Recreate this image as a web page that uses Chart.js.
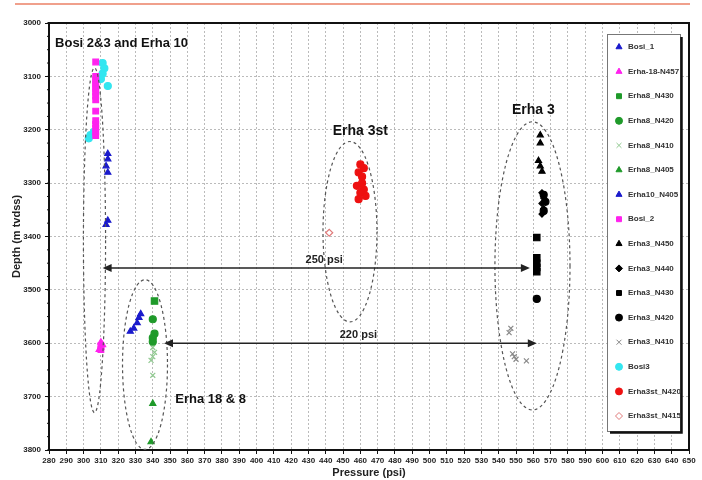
<!DOCTYPE html>
<html>
<head>
<meta charset="utf-8">
<style>
  html, body { margin: 0; padding: 0; background: #fff; }
  #wrap { width: 702px; height: 480px; position: relative; }
</style>
<script src="https://cdn.jsdelivr.net/npm/chart.js@4/dist/chart.umd.min.js"></script>
</head>
<body>
<div id="wrap"><canvas id="myChart" width="702" height="480"></canvas></div>
<script>
// pressure (psi) / depth (m tvdss)
const bosi1P = [314, 314, 313, 314, 314, 313];
const bosi1D = [3245, 3255, 3268, 3280, 3370, 3378];
const erha18P = [310, 311, 310, 309];
const erha18D = [3598, 3603, 3608, 3612];
const erha8n430P = [341];
const erha8n430D = [3521];
const erha8n420P = [340, 341, 340, 340];
const erha8n420D = [3555, 3582, 3590, 3597];
const erha8n410P = [340, 341, 340, 339, 340];
const erha8n410D = [3608, 3617, 3625, 3632, 3660];
const erha8n405P = [340, 339];
const erha8n405D = [3713, 3785];
const erha10P = [333, 332, 331, 329, 327];
const erha10D = [3545, 3552, 3562, 3572, 3578];
const bosi2P = [307, 307, 307, 307, 307, 307, 307, 307, 307, 307, 307, 307, 307, 307, 307, 310, 310];
const bosi2D = [3073, 3100, 3106, 3112, 3118, 3124, 3130, 3137, 3144, 3165, 3183, 3190, 3197, 3204, 3211, 3605, 3612];
const erha3n450P = [564, 564, 563, 564, 565];
const erha3n450D = [3210, 3225, 3258, 3268, 3278];
const erha3n440P = [565, 566, 565, 566, 565];
const erha3n440D = [3318, 3328, 3338, 3348, 3358];
const erha3n430P = [562, 562, 562, 562, 562];
const erha3n430D = [3402, 3440, 3450, 3458, 3466];
const erha3n420P = [566, 567, 566, 562];
const erha3n420D = [3322, 3335, 3352, 3517];
const erha3n410P = [547, 546, 548, 549, 550, 556];
const erha3n410D = [3572, 3580, 3620, 3625, 3630, 3633];
const bosi3P = [311, 312, 311, 310, 314, 304, 303, 306];
const bosi3D = [3075, 3085, 3095, 3105, 3118, 3210, 3216, 3204];
const erha3stN420P = [460, 462, 459, 461, 458, 462, 460, 463, 459, 461];
const erha3stN420D = [3265, 3272, 3280, 3288, 3305, 3312, 3318, 3324, 3330, 3300];
const erha3stN415P = [442];
const erha3stN415D = [3393];

// group outlines: centre pressure, centre depth, half width (psi), half height (m)
const groupCentres = [[306.3, 3407], [335.5, 3640], [454, 3391], [559.5, 3455]];
const groupRadii = [[6.4, 323], [13, 159], [15.6, 169], [21.7, 270]];
const groupNames = ['Bosi 2&3 and Erha 10', 'Erha 18 & 8', 'Erha 3st', 'Erha 3'];
const groupLabelAt = [[283.5, 3039], [353, 3706], [460, 3202], [560, 3163]];

// pressure gaps
const gapNames = ['250 psi', '220 psi'];
const gapFrom = [311, 346.5];
const gapTo = [558, 562];
const gapDepth = [3459, 3600];

function pts(p, d) {
  return p.map((v, i) => ({ x: v, y: d[i] }));
}

const blue = '#1a1acc', magenta = '#ff22ee', green = '#1f9a2a';

const datasets = [
  { label: 'Bosi_1', data: pts(bosi1P, bosi1D), pointStyle: 'triangle', backgroundColor: blue, borderColor: blue },
  { label: 'Erha-18-N457', data: pts(erha18P, erha18D), pointStyle: 'triangle', backgroundColor: magenta, borderColor: magenta },
  { label: 'Erha8_N430', data: pts(erha8n430P, erha8n430D), pointStyle: 'rect', backgroundColor: green, borderColor: green, pointRadius: 4.5 },
  { label: 'Erha8_N420', data: pts(erha8n420P, erha8n420D), pointStyle: 'circle', backgroundColor: green, borderColor: green },
  { label: 'Erha8_N410', data: pts(erha8n410P, erha8n410D), pointStyle: 'crossRot', backgroundColor: '#8fc88f', borderColor: '#8fc88f' },
  { label: 'Erha8_N405', data: pts(erha8n405P, erha8n405D), pointStyle: 'triangle', backgroundColor: green, borderColor: green },
  { label: 'Erha10_N405', data: pts(erha10P, erha10D), pointStyle: 'triangle', backgroundColor: blue, borderColor: blue },
  { label: 'Bosi_2', data: pts(bosi2P, bosi2D), pointStyle: 'rect', backgroundColor: magenta, borderColor: magenta, pointRadius: 4 },
  { label: 'Erha3_N450', data: pts(erha3n450P, erha3n450D), pointStyle: 'triangle', backgroundColor: '#000', borderColor: '#000' },
  { label: 'Erha3_N440', data: pts(erha3n440P, erha3n440D), pointStyle: 'rectRot', backgroundColor: '#000', borderColor: '#000', pointRadius: 3 },
  { label: 'Erha3_N430', data: pts(erha3n430P, erha3n430D), pointStyle: 'rect', backgroundColor: '#000', borderColor: '#000', pointRadius: 4.5 },
  { label: 'Erha3_N420', data: pts(erha3n420P, erha3n420D), pointStyle: 'circle', backgroundColor: '#000', borderColor: '#000' },
  { label: 'Erha3_N410', data: pts(erha3n410P, erha3n410D), pointStyle: 'crossRot', backgroundColor: '#888', borderColor: '#888' },
  { label: 'Bosi3', data: pts(bosi3P, bosi3D), pointStyle: 'circle', backgroundColor: '#33e6f0', borderColor: '#33e6f0' },
  { label: 'Erha3st_N420', data: pts(erha3stN420P, erha3stN420D), pointStyle: 'circle', backgroundColor: '#ee1111', borderColor: '#ee1111' },
  { label: 'Erha3st_N415', data: pts(erha3stN415P, erha3stN415D), pointStyle: 'rectRot', backgroundColor: 'rgba(0,0,0,0)', borderColor: '#e07a7a' },
];

// extras: frame, ellipses, arrows, labels, legend box
const extras = {
  id: 'extras',
  beforeDraw(chart) {
    const ctx = chart.ctx;
    ctx.save();
    ctx.strokeStyle = '#f0a08c';
    ctx.lineWidth = 2;
    ctx.beginPath();
    ctx.moveTo(15, 4);
    ctx.lineTo(690, 4);
    ctx.stroke();
    ctx.restore();
  },
  afterDraw(chart) {
    const ctx = chart.ctx;
    const xs = chart.scales.x, ys = chart.scales.y;
    const a = chart.chartArea;
    ctx.save();

    // top / right frame
    ctx.strokeStyle = '#111';
    ctx.lineWidth = 2;
    ctx.beginPath();
    ctx.moveTo(a.left, a.top);
    ctx.lineTo(a.right, a.top);
    ctx.lineTo(a.right, a.bottom);
    ctx.stroke();

    // minor ticks on depth axis
    ctx.lineWidth = 1;
    for (let d = 3000; d <= 3800; d += 25) {
      const y = ys.getPixelForValue(d);
      ctx.beginPath();
      ctx.moveTo(a.left - 2, y);
      ctx.lineTo(a.left, y);
      ctx.stroke();
    }

    // dashed group outlines
    ctx.setLineDash([3, 3]);
    ctx.strokeStyle = '#555';
    ctx.lineWidth = 1.2;
    groupCentres.forEach((c, i) => {
      const cx = xs.getPixelForValue(c[0]);
      const cy = ys.getPixelForValue(c[1]);
      const rx = Math.abs(xs.getPixelForValue(c[0] + groupRadii[i][0]) - cx);
      const ry = Math.abs(ys.getPixelForValue(c[1] + groupRadii[i][1]) - cy);
      ctx.beginPath();
      ctx.ellipse(cx, cy, rx, ry, 0, 0, Math.PI * 2);
      ctx.stroke();
    });
    ctx.setLineDash([]);

    // gap arrows
    ctx.strokeStyle = '#222';
    ctx.fillStyle = '#222';
    ctx.lineWidth = 1.6;
    gapNames.forEach((name, i) => {
      const x1 = xs.getPixelForValue(gapFrom[i]);
      const x2 = xs.getPixelForValue(gapTo[i]);
      const y = ys.getPixelForValue(gapDepth[i]);
      ctx.beginPath();
      ctx.moveTo(x1 + 4, y);
      ctx.lineTo(x2 - 4, y);
      ctx.stroke();
      [[x1, 1], [x2, -1]].forEach(([x, dir]) => {
        ctx.beginPath();
        ctx.moveTo(x, y);
        ctx.lineTo(x + dir * 9, y - 4);
        ctx.lineTo(x + dir * 9, y + 4);
        ctx.closePath();
        ctx.fill();
      });
      ctx.font = 'bold 11px "Liberation Sans", Arial, sans-serif';
      ctx.textAlign = 'center';
      ctx.textBaseline = 'bottom';
      ctx.fillText(name, (x1 + x2) / 2 + 8, y - 3);
    });

    // group labels
    ctx.fillStyle = '#111';
    ctx.textBaseline = 'middle';
    groupNames.forEach((name, i) => {
      const x = xs.getPixelForValue(groupLabelAt[i][0]);
      const y = ys.getPixelForValue(groupLabelAt[i][1]);
      ctx.textAlign = i >= 2 ? 'center' : 'left';
      ctx.font = i >= 2 ? 'bold 14px "Liberation Sans Narrow", "Liberation Sans", sans-serif'
                        : 'bold 13px "Liberation Sans", Arial, sans-serif';
      ctx.fillText(name, x, y);
    });

    // legend box
    const bx = 607, by = 34, bw = 73, bh = 397;
    ctx.fillStyle = '#fff';
    ctx.fillRect(bx, by, bw, bh);
    ctx.strokeStyle = '#777';
    ctx.lineWidth = 1;
    ctx.strokeRect(bx + 0.5, by + 0.5, bw, bh);
    ctx.strokeStyle = '#111';
    ctx.lineWidth = 2.5;
    ctx.beginPath();
    ctx.moveTo(bx + bw + 1.5, by + 3);
    ctx.lineTo(bx + bw + 1.5, by + bh + 1.5);
    ctx.lineTo(bx + 3, by + bh + 1.5);
    ctx.stroke();

    chart.data.datasets.forEach((ds, i) => {
      const y = 47 + i * 24.6;
      ctx.fillStyle = ds.backgroundColor;
      ctx.strokeStyle = ds.borderColor;
      ctx.lineWidth = 1;
      Chart.helpers.drawPoint(ctx, { pointStyle: ds.pointStyle, radius: 3.5, borderWidth: 1, rotation: 0 }, 619, y);
      ctx.fillStyle = '#333';
      ctx.font = 'bold 8px "Liberation Sans Narrow", "Liberation Sans", sans-serif';
      ctx.textAlign = 'left';
      ctx.textBaseline = 'middle';
      ctx.fillText(ds.label, 628, y);
    });
    ctx.restore();
  }
};

const tickFont = { family: '"Liberation Sans Narrow", "Liberation Sans", sans-serif', size: 8, weight: 'bold' };
const titleFont = { family: '"Liberation Sans", Arial, sans-serif', size: 11, weight: 'bold' };

const ctx = document.getElementById('myChart').getContext('2d');
const myChart = new Chart(ctx, {
  type: 'scatter',
  data: { datasets: datasets },
  options: {
    responsive: false,
    animation: false,
    layout: { padding: { top: 23, right: 13, left: 0, bottom: 0 } },
    elements: { point: { radius: 3.5, borderWidth: 1.2 } },
    plugins: {
      legend: { display: false },
      tooltip: { enabled: false },
    },
    scales: {
      x: {
        min: 280,
        max: 650,
        ticks: {
          stepSize: 10,
          autoSkip: false,
          maxRotation: 0,
          color: '#222',
          font: tickFont,
          padding: 2,
          callback: (value) => String(value),
        },
        grid: { color: '#bbb', tickColor: '#111', tickLength: 4, lineWidth: 1, borderDash: [2, 2], tickBorderDash: [] },
        border: { display: true, color: '#111', width: 2, dash: [2, 2] },
        title: { display: true, text: 'Pressure (psi)', color: '#222', font: titleFont, padding: { top: 0, bottom: 0 } },
        afterFit(scale) { scale.height = 30; },
      },
      y: {
        reverse: true,
        min: 3000,
        max: 3800,
        ticks: {
          stepSize: 100,
          color: '#222',
          font: tickFont,
          padding: 4,
          callback: (value) => String(value),
        },
        grid: { color: '#bbb', tickColor: '#111', tickLength: 4, lineWidth: 1, borderDash: [2, 2], tickBorderDash: [] },
        border: { display: true, color: '#111', width: 2, dash: [2, 2] },
        title: { display: true, text: 'Depth (m tvdss)', color: '#222', font: titleFont, padding: { top: 10, bottom: 0 } },
        afterFit(scale) { scale.width = 49; },
      },
    },
  },
  plugins: [extras],
});
</script>
</body>
</html>
